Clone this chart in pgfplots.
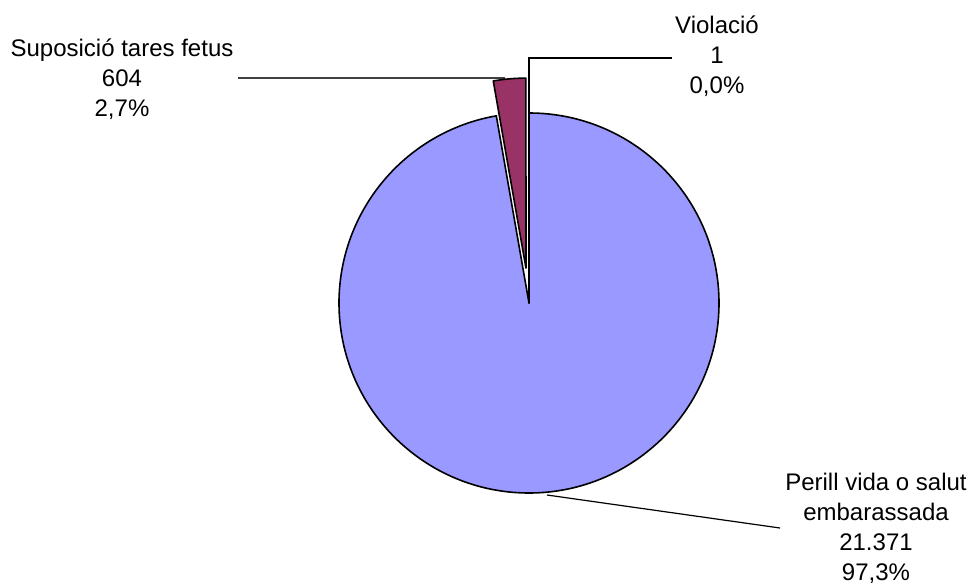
\documentclass[border=0pt]{standalone}
\usepackage{pgfplots}
\pgfplotsset{compat=1.18}
\usepackage{pgfplotstable}
\usepackage{fontspec}
\setmainfont{Liberation Sans}
\usetikzlibrary{calc}

\definecolor{pieblue}{HTML}{9999FF}
\definecolor{piepurple}{HTML}{993366}

% pie values
\pgfplotstableread{
label value
Perill 21371
Suposicio 604
Violacio 1
}\piedata

\newcommand\pieR{190}
% fill colour, centre x, centre y, start angle, end angle
\newcommand\piewedge[5]{%
  \filldraw[fill=#1, draw=black, line width=0.8bp, line join=round]
    let \p1=($(axis cs:\pieR,0)-(axis cs:0,0)$), \n1={veclen(\x1,\y1)} in
    (axis cs:#2,#3) -- ++(#4:\n1) arc[start angle=#4, end angle=#5, radius=\n1] -- cycle;}
\newcommand\lab[3]{\node[anchor=base, inner sep=0pt, font=\fontsize{12bp}{15bp}\selectfont] at (axis cs:#1,#2) {#3};}

\begin{document}
\begin{tikzpicture}
\pgfplotstablegetelem{0}{value}\of\piedata \let\va\pgfplotsretval
\pgfplotstablegetelem{1}{value}\of\piedata \let\vb\pgfplotsretval
\pgfplotstablegetelem{2}{value}\of\piedata \let\vc\pgfplotsretval
\edef\total{\fpeval{\va+\vb+\vc}}
\edef\aA{\fpeval{360*\va/\total}}
\edef\aB{\fpeval{360*\vb/\total}}
\edef\aC{\fpeval{360*\vc/\total}}
% clockwise from 12 o'clock
\edef\blueEnd{\fpeval{90-\aA}}
\edef\purStart{\fpeval{90+\aB+\aC}}
\edef\purEnd{\fpeval{90+\aC}}
\edef\bis{\fpeval{90+\aC+\aB/2}}
\edef\pcx{\fpeval{529+35*cosd(\bis)}}
\edef\pcy{\fpeval{279+35*sind(\bis)}}
\begin{axis}[
    width=485bp, height=291bp, scale only axis,
    xmin=0, xmax=970, ymin=0, ymax=582,
    hide axis, clip=false,
]
\coordinate (SW) at (axis cs:0,0);
\coordinate (NE) at (axis cs:970,582);
% leader lines
\draw[black!75, line width=0.6bp] (axis cs:238,504) -- (axis cs:505,504);
\piewedge{pieblue}{529}{279}{90}{\blueEnd}
\piewedge{piepurple}{\pcx}{\pcy}{\purStart}{\purEnd}
\piewedge{pieblue}{529}{279}{\purEnd}{90}
\draw[black, line width=0.6bp] (axis cs:529,469) -- (axis cs:529,524) -- (axis cs:672,524);
\draw[black, line width=0.6bp] (axis cs:547,87) -- (axis cs:780,54);
% labels
\lab{122}{525}{Suposició tares fetus}
\lab{122}{495}{604}
\lab{122}{465}{2,7\%}
\lab{717}{548}{Violació}
\lab{717}{518}{1}
\lab{717}{488}{0,0\%}
\lab{876}{92}{Perill vida o salut}
\lab{876}{62}{embarassada}
\lab{876}{32}{21.371}
\lab{876}{2}{97,3\%}
\end{axis}
\pgfresetboundingbox
\path[use as bounding box] (SW) rectangle (NE);
\end{tikzpicture}
\end{document}
